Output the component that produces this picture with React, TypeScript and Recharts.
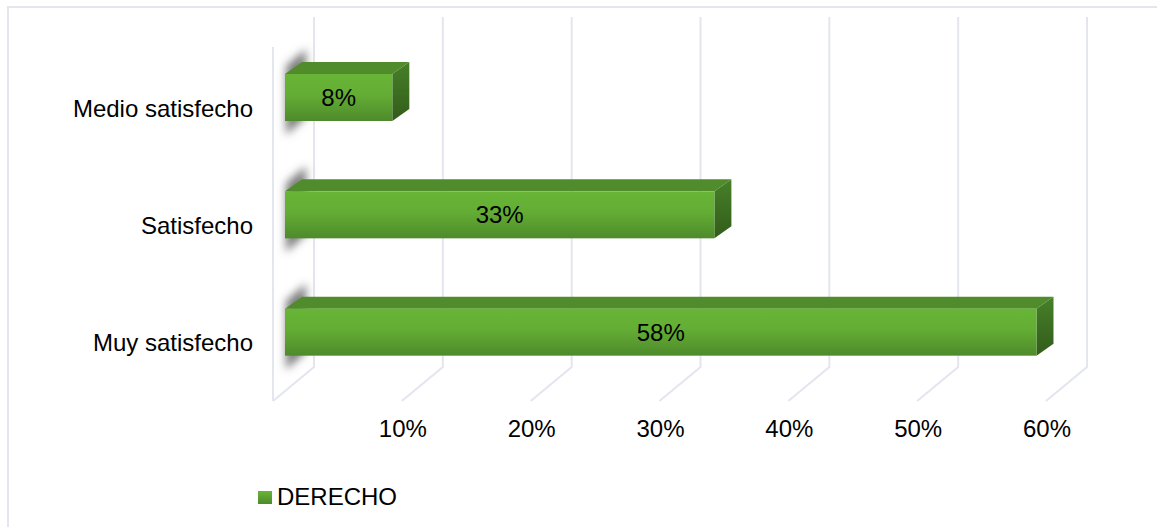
import { BarChart, Bar, XAxis, YAxis, LabelList, Legend, CartesianGrid } from "recharts";

const categories = ["Medio satisfecho", "Satisfecho", "Muy satisfecho"];
const derecho = [8.33, 33.33, 58.33];
const xTicks = [0, 10, 20, 30, 40, 50, 60];

const data = categories.map((name, i) => ({ name, DERECHO: derecho[i] }));

const font = "'Liberation Sans', Arial, sans-serif";
const gridColor = "#e3e6ee";
const plotLeft = 285;

// bar extrusion
const DX = 17;
const DY = 12;

const Bar3D = (props: any) => {
  const { x, y, width, height } = props;
  const r = x + width;
  const b = y + height;
  return (
    <g>
      <polygon
        points={`${x + 1},${y - 8} ${x + 21},${y - 25} ${x + 21},${b - 4} ${x + 1},${b + 14}`}
        fill="#666666"
        fillOpacity={0.85}
        filter="url(#wallShadow)"
      />
      <polygon
        points={`${x},${y} ${x + DX},${y - DY} ${r + DX},${y - DY} ${r},${y}`}
        fill="#508c2c"
      />
      <polygon
        points={`${r},${y} ${r + DX},${y - DY} ${r + DX},${b - DY} ${r},${b}`}
        fill="url(#sideFace)"
      />
      <rect x={x} y={y} width={width} height={height} fill="url(#frontFace)" />
    </g>
  );
};

const GridLine = (props: any) => {
  const x = props.x1;
  return (
    <g>
      <polyline
        points={`${x + 29},17 ${x + 29},367 ${x - 12},401`}
        fill="none"
        stroke={gridColor}
        strokeWidth={2}
      />
      {x <= plotLeft && (
        <line x1={x - 12} y1={47} x2={x - 12} y2={401} stroke={gridColor} strokeWidth={2} />
      )}
    </g>
  );
};

const ValueTick = (props: any) => {
  const { x, payload } = props;
  if (payload.value === 0) return <g />;
  return (
    <text x={x - 11} y={437} textAnchor="middle" fontSize={24} fontFamily={font} fill="#000">
      {payload.value}%
    </text>
  );
};

const CategoryTick = (props: any) => {
  const { x, y, payload } = props;
  return (
    <text x={x} y={y + 19} textAnchor="end" fontSize={24} fontFamily={font} fill="#000">
      {payload.value}
    </text>
  );
};

const LegendBox = () => (
  <div
    style={{
      display: "flex",
      alignItems: "center",
      fontFamily: font,
      fontSize: 24,
      color: "#000",
      lineHeight: "24px",
    }}
  >
    <span
      style={{
        width: 14,
        height: 13,
        marginRight: 5,
        background: "linear-gradient(#68b536, #4e8a2b)",
      }}
    />
    DERECHO
  </div>
);

export default function App() {
  return (
    <div style={{ position: "absolute", left: 0, top: 0, width: 1157, height: 527, background: "#fff", overflow: "hidden" }}>
      <div style={{ position: "absolute", left: 7, top: 6, right: -4, bottom: -4, border: `2px solid ${gridColor}` }} />
      <BarChart
        width={1157}
        height={527}
        data={data}
        layout="vertical"
        barCategoryGap={35}
        margin={{ top: 39, right: 99, bottom: 0, left: 0 }}
        style={{ position: "absolute", left: 0, top: 0 }}
      >
        <defs>
          <linearGradient id="frontFace" x1="0" y1="0" x2="0" y2="1">
            <stop offset="0%" stopColor="#68b536" />
            <stop offset="45%" stopColor="#63ad34" />
            <stop offset="100%" stopColor="#4e8a2b" />
          </linearGradient>
          <linearGradient id="sideFace" x1="0" y1="0" x2="0" y2="1">
            <stop offset="0%" stopColor="#478029" />
            <stop offset="100%" stopColor="#325c1a" />
          </linearGradient>
          <filter id="wallShadow" x="-100%" y="-30%" width="300%" height="160%">
            <feGaussianBlur stdDeviation="4" />
          </filter>
        </defs>
        <CartesianGrid horizontal={false} vertical={GridLine} syncWithTicks />
        <XAxis
          type="number"
          domain={[0, 60]}
          ticks={xTicks}
          height={110}
          axisLine={false}
          tickLine={false}
          tick={ValueTick}
          interval={0}
        />
        <YAxis
          type="category"
          dataKey="name"
          width={285}
          axisLine={false}
          tickLine={false}
          tickSize={0}
          tickMargin={32}
          tick={CategoryTick}
          interval={0}
        />
        <Legend
          content={LegendBox}
          layout="horizontal"
          wrapperStyle={{ left: 258, top: 485, width: 200, height: 26 }}
        />
        <Bar dataKey="DERECHO" isAnimationActive={false} barSize={47} shape={Bar3D}>
          <LabelList
            dataKey="DERECHO"
            position="center"
            formatter={(v: any) => `${Math.round(v)}%`}
            style={{ fontSize: 24, fontFamily: font, fill: "#000" }}
          />
        </Bar>
      </BarChart>
    </div>
  );
}
